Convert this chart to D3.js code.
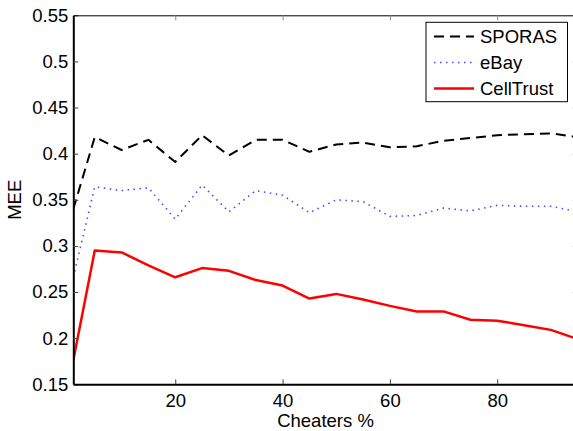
<!DOCTYPE html>
<meta charset="utf-8">
<style>
  body { margin: 0; background: #fff; }
  svg { display: block; font-family: "Liberation Sans", Arial, sans-serif; }
</style>
<svg></svg>
<script src="https://cdn.jsdelivr.net/npm/d3@7"></script>
<script>
// data
var cheaters = [1, 5, 10, 15, 20, 25, 30, 35, 40, 45, 50, 55, 60, 65, 70, 75, 80, 85, 90, 95];
var sporas    = [0.340, 0.418, 0.404, 0.415, 0.391, 0.420, 0.398, 0.415, 0.415, 0.402, 0.410, 0.412, 0.407, 0.408, 0.414, 0.417, 0.420, 0.421, 0.422, 0.418];
var ebay      = [0.266, 0.364, 0.360, 0.363, 0.329, 0.366, 0.337, 0.360, 0.355, 0.336, 0.350, 0.348, 0.332, 0.333, 0.341, 0.338, 0.344, 0.343, 0.343, 0.337];
var celltrust = [0.176, 0.295, 0.293, 0.279, 0.266, 0.276, 0.273, 0.263, 0.257, 0.243, 0.248, 0.242, 0.235, 0.229, 0.229, 0.220, 0.219, 0.214, 0.209, 0.199];
var yTicks = [0.15, 0.2, 0.25, 0.3, 0.35, 0.4, 0.45, 0.5, 0.55];
var xTicks = [20, 40, 60, 80];

var series = [
  {name: "SPORAS", values: sporas, color: "#000", width: 2, dash: "10,6"},
  {name: "eBay", values: ebay, color: "#4a4aff", width: 1.6, dash: "1.5,4.5"},
  {name: "CellTrust", values: celltrust, color: "#ff0000", width: 2.5, dash: null}
];

var W = 573, H = 431;
var svg = d3.select("svg").attr("width", W).attr("height", H);

// plot box (right edge falls just outside the picture, as in the reference)
var pLeft = 73.3, pRight = 577.7, pTop = 15.3, pBottom = 384.3;

var x = d3.scaleLinear().domain([1, 95]).range([pLeft, pRight]);
var y = d3.scaleLinear().domain([0.15, 0.55]).range([pBottom, pTop]);

svg.append("defs").append("clipPath").attr("id", "clip")
  .append("rect").attr("x", pLeft).attr("y", pTop)
  .attr("width", pRight - pLeft).attr("height", pBottom - pTop);

// lines
var line = d3.line()
  .x(function(d, i) { return x(cheaters[i]); })
  .y(function(d) { return y(d); });

var plot = svg.append("g").attr("clip-path", "url(#clip)");
series.forEach(function(s) {
  plot.append("path")
    .datum(s.values)
    .attr("fill", "none")
    .attr("stroke", s.color)
    .attr("stroke-width", s.width)
    .attr("stroke-dasharray", s.dash)
    .attr("stroke-linejoin", "round")
    .attr("d", line);
});

// axes (MATLAB style: ticks inward, box)
var fmt = function(d) { return String(+d.toFixed(2)); };

var yAxis = svg.append("g")
  .attr("transform", "translate(" + pLeft + ",0)")
  .call(d3.axisLeft(y).tickValues(yTicks).tickSizeInner(-5).tickSizeOuter(0).tickPadding(5).tickFormat(fmt));
var yAxisR = svg.append("g")
  .attr("transform", "translate(" + pRight + ",0)")
  .call(d3.axisRight(y).tickValues(yTicks).tickSizeInner(-5).tickSizeOuter(0).tickFormat(""));
var xAxis = svg.append("g")
  .attr("transform", "translate(0," + pBottom + ")")
  .call(d3.axisBottom(x).tickValues(xTicks).tickSizeInner(-5).tickSizeOuter(0).tickPadding(10));
var xAxisT = svg.append("g")
  .attr("transform", "translate(0," + pTop + ")")
  .call(d3.axisTop(x).tickValues(xTicks).tickSizeInner(-5).tickSizeOuter(0).tickFormat(""));

[yAxis, xAxis].forEach(function(a) {
  a.select(".domain").attr("stroke", "#000").attr("stroke-width", 2);
  a.selectAll(".tick line").attr("stroke", "#444");
  a.selectAll("text").attr("font-size", 18.5).attr("fill", "#000")
    .attr("font-family", "'Liberation Sans', Arial, sans-serif");
});
[yAxisR, xAxisT].forEach(function(a) {
  a.select(".domain").attr("stroke", "#000").attr("stroke-width", 1);
  a.selectAll(".tick line").attr("stroke", "#888");
});

// axis titles
svg.append("text")
  .attr("x", (pLeft + pRight) / 2).attr("y", 427)
  .attr("text-anchor", "middle").attr("font-size", 18.5)
  .text("Cheaters %");
svg.append("text")
  .attr("transform", "translate(21," + ((pTop + pBottom) / 2) + ") rotate(-90)")
  .attr("text-anchor", "middle").attr("font-size", 18.5)
  .text("MEE");

// legend
var legend = svg.append("g");
legend.append("rect")
  .attr("x", 426).attr("y", 22.3).attr("width", 141.5).attr("height", 79.4)
  .attr("fill", "#fff").attr("stroke", "#000").attr("stroke-width", 1);
series.forEach(function(s, i) {
  var ly = 36.5 + i * 26;
  legend.append("line")
    .attr("x1", 434).attr("x2", 474).attr("y1", ly).attr("y2", ly)
    .attr("stroke", s.color).attr("stroke-width", s.width)
    .attr("stroke-dasharray", s.dash);
  legend.append("text")
    .attr("x", 480).attr("y", ly).attr("dy", "0.35em")
    .attr("font-size", 18.5).text(s.name);
});
</script>
